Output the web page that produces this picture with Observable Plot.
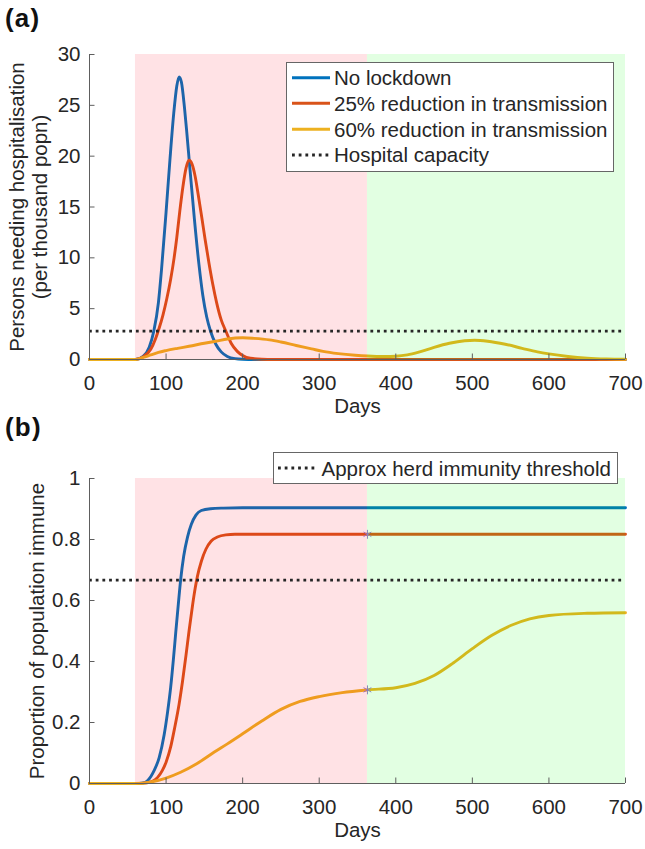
<!DOCTYPE html>
<html><head><meta charset="utf-8">
<script src="https://cdn.jsdelivr.net/npm/d3@7"></script>
<script src="https://cdn.jsdelivr.net/npm/@observablehq/plot@0.6"></script>
<style>
body{margin:0;background:#fff;}
#fig{position:relative;width:645px;height:849px;overflow:hidden;background:#fff}
#fig svg{position:absolute;left:0}
</style></head>
<body><div id="fig"></div>
<script>
// ---------- data ----------
const xTicks = [0, 100, 200, 300, 400, 500, 600, 700];
const hospTicks = [0, 5, 10, 15, 20, 25, 30];
const immTicks = [0, 0.2, 0.4, 0.6, 0.8, 1];
const immTickLabels = ["0", "0.2", "0.4", "0.6", "0.8", "1"];
const seriesNames = ["No lockdown", "25% reduction in transmission", "60% reduction in transmission"];
const refNamesA = ["Hospital capacity"];
const refNamesB = ["Approx herd immunity threshold"];
const hospitalCapacity = 2.8;
const herdThreshold = 0.667;
const phaseStart = [60, 363];
const phaseEnd = [363, 700];

// (a) persons needing hospitalisation per thousand
const noLockHospDays = [0, 60, 70, 78, 84, 90, 94, 100, 105, 110, 114, 117, 120, 124, 127, 131, 137, 143, 148, 153, 158, 165, 172, 180, 190, 200, 215, 700];
const noLockHospVals = [0, 0, 0.3, 1.2, 2.8, 5.6, 8.8, 14.5, 19.6, 24.2, 26.9, 27.8, 27.3, 24.8, 22.4, 18.9, 13.8, 9.3, 6.3, 4.2, 2.8, 1.5, 0.75, 0.3, 0.08, 0.02, 0, 0];
const r25HospDays = [0, 60, 70, 80, 86, 91, 96, 101, 106, 110.5, 114, 118, 122, 126, 130, 134, 138, 142, 146.6, 151, 156, 161, 166, 172, 178, 185, 193, 200, 210, 225, 240, 700];
const r25HospVals = [0, 0, 0.25, 1.0, 2.0, 3.1, 4.4, 6.0, 7.9, 10.0, 12.0, 14.65, 17, 18.8, 19.6, 19.2, 18, 16.2, 14.0, 11.8, 9.5, 7.4, 5.6, 3.9, 2.8, 1.6, 0.8, 0.4, 0.12, 0.02, 0, 0];
const r60HospDays = [0, 60, 70, 80, 90, 100, 115, 130, 150, 165, 180, 200, 215, 235, 250, 270, 290, 305, 325, 347, 363, 385, 400, 415, 430, 450, 470, 490, 503, 520, 543, 565, 585, 600, 625, 650, 675, 700];
const r60HospVals = [0, 0, 0.2, 0.45, 0.7, 0.88, 1.1, 1.3, 1.6, 1.8, 2.02, 2.14, 2.08, 1.93, 1.72, 1.38, 1.05, 0.8, 0.58, 0.42, 0.34, 0.29, 0.32, 0.45, 0.72, 1.2, 1.6, 1.85, 1.9, 1.8, 1.5, 1.1, 0.75, 0.55, 0.3, 0.14, 0.06, 0.03];

// (b) proportion of population immune
const noLockImmDays = [0, 60, 70, 76, 84.5, 91, 97.5, 102, 106, 109.5, 112.7, 116, 119, 123, 128, 133, 139, 146, 158, 175, 200, 700];
const noLockImmVals = [0, 0, 0.002, 0.01, 0.043, 0.085, 0.16, 0.235, 0.315, 0.405, 0.497, 0.588, 0.667, 0.745, 0.808, 0.85, 0.88, 0.895, 0.901, 0.903, 0.904, 0.904];
const r25ImmDays = [0, 60, 75, 83, 89, 95, 100, 106, 111, 117, 121.5, 126, 130, 134.5, 138, 141, 146, 152, 159, 167, 178, 190, 700];
const r25ImmVals = [0, 0, 0.002, 0.008, 0.02, 0.042, 0.07, 0.12, 0.18, 0.26, 0.335, 0.42, 0.5, 0.583, 0.64, 0.68, 0.728, 0.768, 0.795, 0.808, 0.815, 0.817, 0.817];
const r60ImmDays = [0, 60, 80, 100, 119, 140, 163, 180, 200, 225, 250, 275, 300, 330, 363, 400, 425, 450, 475, 500, 525, 550, 575, 600, 650, 700];
const r60ImmVals = [0, 0, 0.005, 0.018, 0.037, 0.065, 0.103, 0.13, 0.163, 0.205, 0.243, 0.269, 0.285, 0.298, 0.307, 0.314, 0.328, 0.354, 0.395, 0.442, 0.485, 0.518, 0.54, 0.551, 0.558, 0.56];

// lockdown-end markers in (b)
const markDays = [363, 363];
const markVals = [0.817, 0.307];

// ---------- style ----------
const FONT = '"Liberation Sans", Arial, Helvetica, sans-serif';
const FS = 20.5;
const INK = "#262626";
const AXIS = "#5e5e5e";
const palette = ["#0072BD", "#D95319", "#EDB120"];
const shade = ["rgb(255,0,24)", "rgb(0,255,0)"];
const dotted = "2.8,3.9";
const LW = 2.9;

const tbl = (ds, vs) => ds.map((d, i) => ({day: d, value: vs[i]}));
const phases = phaseStart.map((s, i) => ({x1: s, x2: phaseEnd[i]}));

function panel({top, height, marginTop, marginBottom, yMax, yTicks, yLabels, series, ref, stars, yTitle}) {
  const marks = [];
  series.forEach((s, i) => marks.push(Plot.line(s, {x: "day", y: "value", stroke: palette[i], strokeWidth: LW, curve: "monotone-x"})));
  if (stars) marks.push(Plot.dot(stars, {x: "day", y: "value", symbol: "asterisk", r: 4.2, stroke: "#9678d2", strokeWidth: 1}));
  phases.forEach((p, i) => marks.push(Plot.rect([p], {x1: "x1", x2: "x2", y1: () => 0, y2: () => yMax, fill: shade[i], fillOpacity: 0.115})));
  marks.push(Plot.ruleY([ref], {stroke: INK, strokeWidth: 2.8, strokeDasharray: dotted}));
  // axes (MATLAB style: left + bottom, inward ticks)
  marks.push(Plot.ruleY([0], {stroke: AXIS, strokeWidth: 1}));
  marks.push(Plot.ruleX([0], {stroke: AXIS, strokeWidth: 1}));
  marks.push(Plot.ruleX(xTicks, {x: d => d, y1: () => 0, y2: () => 0, insetBottom: 5.5, stroke: AXIS}));
  marks.push(Plot.ruleY(yTicks, {y: d => d, x1: () => 0, x2: () => 0, insetLeft: 5.5, stroke: AXIS}));
  marks.push(Plot.text(xTicks, {x: d => d, y: () => 0, text: d => String(d), dy: 30, lineAnchor: "bottom", textAnchor: "middle", fill: INK, fontSize: FS}));
  marks.push(Plot.text(yTicks, {x: () => 0, y: d => d, text: (d, i) => yLabels[i], dx: -9, lineAnchor: "middle", textAnchor: "end", fill: INK, fontSize: FS}));
  marks.push(Plot.text(["Days"], {frameAnchor: "bottom", dy: 53, lineAnchor: "bottom", textAnchor: "middle", fill: INK, fontSize: FS}));
  yTitle.forEach(([t, dx]) => marks.push(Plot.text([t], {frameAnchor: "left", dx, rotate: -90, lineAnchor: "bottom", textAnchor: "middle", fill: INK, fontSize: FS})));
  const svg = Plot.plot({
    width: 645, height, marginTop, marginBottom, marginLeft: 89, marginRight: 20,
    x: {domain: [0, 700], axis: null},
    y: {domain: [0, yMax], axis: null},
    style: {fontFamily: FONT, fontSize: FS + "px", color: INK, background: "transparent", overflow: "visible"},
    marks
  });
  svg.style.top = top + "px";
  return svg;
}

const fig = document.getElementById("fig");
fig.appendChild(panel({
  top: 0, height: 420, marginTop: 54, marginBottom: 61, yMax: 30,
  yTicks: hospTicks, yLabels: hospTicks.map(String),
  series: [tbl(noLockHospDays, noLockHospVals), tbl(r25HospDays, r25HospVals), tbl(r60HospDays, r60HospVals)],
  ref: hospitalCapacity, stars: null,
  yTitle: [["Persons needing hospitalisation", -66], ["(per thousand popn)", -43]]
}));
fig.appendChild(panel({
  top: 420, height: 429, marginTop: 58, marginBottom: 66, yMax: 1,
  yTicks: immTicks, yLabels: immTickLabels,
  series: [tbl(noLockImmDays, noLockImmVals), tbl(r25ImmDays, r25ImmVals), tbl(r60ImmDays, r60ImmVals)],
  ref: herdThreshold, stars: tbl(markDays, markVals),
  yTitle: [["Proportion of population immune", -46]]
}));

// ---------- overlay: panel tags and legends ----------
const ov = d3.create("svg").attr("width", 645).attr("height", 849)
  .style("top", "0px").style("font-family", FONT).style("pointer-events", "none");
ov.append("text").attr("x", 5).attr("y", 27).attr("font-size", 26).attr("font-weight", "bold").attr("letter-spacing", 1.2).attr("fill", "#111").text("(a)");
ov.append("text").attr("x", 5).attr("y", 436).attr("font-size", 26).attr("font-weight", "bold").attr("letter-spacing", 1.2).attr("fill", "#111").text("(b)");

// legend (a)
const la = ov.append("g");
la.append("rect").attr("x", 286.5).attr("y", 62.5).attr("width", 327).attr("height", 109).attr("fill", "#fff").attr("stroke", "#666");
const rowsA = seriesNames.concat(refNamesA);
const rowYA = [77.7, 103.3, 129.3, 155];
rowsA.forEach((name, i) => {
  const y = rowYA[i];
  const ln = la.append("line").attr("x1", 292).attr("x2", 330).attr("y1", y).attr("y2", y);
  if (i < 3) ln.attr("stroke", palette[i]).attr("stroke-width", LW);
  else ln.attr("stroke", INK).attr("stroke-width", 2.8).attr("stroke-dasharray", dotted);
  la.append("text").attr("x", 334).attr("y", y + 7.3).attr("font-size", FS).attr("fill", INK).text(name);
});
// legend (b)
const lb = ov.append("g");
lb.append("rect").attr("x", 273.5).attr("y", 452.5).attr("width", 344).attr("height", 31).attr("fill", "#fff").attr("stroke", "#666");
lb.append("line").attr("x1", 278).attr("x2", 318).attr("y1", 468).attr("y2", 468).attr("stroke", INK).attr("stroke-width", 2.8).attr("stroke-dasharray", dotted);
lb.append("text").attr("x", 321.5).attr("y", 475.5).attr("font-size", FS).attr("fill", INK).text(refNamesB[0]);
fig.appendChild(ov.node());
</script>
</body></html>
